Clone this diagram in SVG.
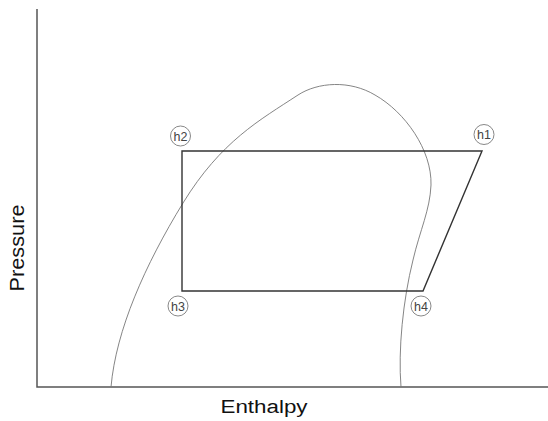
<svg xmlns="http://www.w3.org/2000/svg" width="548" height="421" viewBox="0 0 548 421">
<style>
.axis{stroke:#555;stroke-width:1.5;fill:none}
.dome{stroke:#777;stroke-width:0.9;fill:none}
.cycle{stroke:#333;stroke-width:1.4;fill:none;stroke-linejoin:miter}
.pt circle{fill:#fff;stroke:#888;stroke-width:1}
.pt text{font-family:"Liberation Sans",Arial,sans-serif;font-size:12.5px;fill:#444;text-anchor:middle}
.lbl{font-family:"Liberation Sans",Arial,sans-serif;fill:#111;text-anchor:middle}
</style>
<rect width="548" height="421" fill="#fff"/>
<g id="axes">
<path class="axis" d="M37,9 V387 H548"/>
</g>
<g id="dome">
<path class="dome" d="M111,387 C116,330 145,265 183,203 S260,120 298,95 C318,82 350,80 375,95 C405,112 432,150 431,185 C430,210 420,230 413,260 C403,300 398,350 401,387"/>
</g>
<g id="connectors">
<polygon class="cycle" points="182,151 482,151 423,291 182,291"/>
</g>
<g id="h2" class="pt"><circle cx="180.5" cy="136" r="10"/><text x="180.5" y="140.5">h2</text></g>
<g id="h1" class="pt"><circle cx="484" cy="134.5" r="10"/><text x="484" y="139">h1</text></g>
<g id="h3" class="pt"><circle cx="178" cy="306" r="10"/><text x="178" y="310.5">h3</text></g>
<g id="h4" class="pt"><circle cx="421" cy="306" r="10"/><text x="421" y="310.5">h4</text></g>
<text class="lbl" x="264" y="413" font-size="18" textLength="87" lengthAdjust="spacingAndGlyphs">Enthalpy</text>
<text class="lbl" transform="translate(23.5,248) rotate(-90)" font-size="20" textLength="87" lengthAdjust="spacingAndGlyphs">Pressure</text>
</svg>
